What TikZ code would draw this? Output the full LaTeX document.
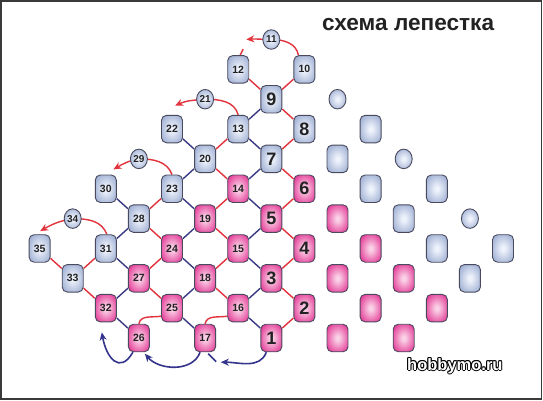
\documentclass[tikz,border=0pt]{standalone}
\usepackage{fontspec}
\setmainfont{Liberation Sans}
\usetikzlibrary{shapes.geometric,arrows.meta}
\definecolor{bluei}{HTML}{EEF2FB}
\definecolor{blueo}{HTML}{9EAFD3}
\definecolor{pinki}{HTML}{FAD0E6}
\definecolor{pinko}{HTML}{E33A96}
\definecolor{edgec}{HTML}{4A4A5E}
\definecolor{redc}{HTML}{E2323C}
\definecolor{navyc}{HTML}{3A3A84}
\definecolor{arrc}{HTML}{34348C}
\definecolor{txtc}{HTML}{222222}
\definecolor{framec}{HTML}{3A3A3A}
\pgfdeclareradialshading{blueshade}{\pgfpoint{0bp}{0bp}}{color(0bp)=(bluei); color(4bp)=(bluei); color(31bp)=(blueo); color(50bp)=(blueo)}
\pgfdeclareradialshading{pinkshade}{\pgfpoint{0bp}{0bp}}{color(0bp)=(pinki); color(4bp)=(pinki); color(31bp)=(pinko); color(50bp)=(pinko)}
\pgfdeclarelayer{bg}
\pgfsetlayers{bg,main}
\begin{document}
\begin{tikzpicture}[x=1pt,y=-1pt,
  bead/.style={rectangle, rounded corners=5pt, minimum width=21pt, minimum height=27.5pt,
    draw=edgec, line width=0.9pt, inner sep=0pt, text=txtc,
    font=\fontsize{10.5}{12}\selectfont\bfseries},
  bb/.style={bead, shade, shading=blueshade},
  pb/.style={bead, shade, shading=pinkshade},
  big/.style={font=\fontsize{18}{20}\selectfont\bfseries},
  cb/.style={ellipse, minimum width=17pt, minimum height=19.5pt, draw=edgec, line width=0.9pt,
    inner sep=0pt, shade, shading=blueshade, text=txtc, font=\fontsize{10}{11}\selectfont\bfseries},
  rl/.style={draw=redc, line width=1.4pt},
  bl/.style={draw=navyc, line width=1.4pt},
  ra/.style={rl, -{Stealth[length=8pt,width=7pt]}},
  ba/.style={draw=arrc, line width=1.6pt, -{Stealth[length=8pt,width=7pt]}},
  bs/.style={draw=arrc, line width=1.6pt},
  wm/.style={anchor=base west, inner sep=0pt, font=\fontsize{16.5}{18}\selectfont\bfseries}
]
\useasboundingbox (0,0) rectangle (543,400);
\begin{pgfonlayer}{bg}
\fill[white] (0,0) rectangle (543,400);
\draw[framec, line width=1.5pt] (0.75,0.75) rectangle (541.6,399.2);
\end{pgfonlayer}

\node[anchor=base west, inner sep=0pt, text=txtc, font=\fontsize{22.6}{24}\selectfont\bfseries] (title) at (322,30) {схема лепестка};

\begin{scope}[shift={(39.6,39.5)}, x=33.1pt, y=-29.85pt]
% row 0
\node[cb] (n11) at (7,0) {11};
% row 1
\node[bb] (n12) at (6,1) {12};
\node[bb] (n10) at (8,1) {10};
% row 2
\node[cb] (n21) at (5,2) {21};
\node[bb,big] (n9) at (7,2) {9};
\node[cb] (u1) at (9,2) {};
% row 3
\node[bb] (n22) at (4,3) {22};
\node[bb] (n13) at (6,3) {13};
\node[bb,big] (n8) at (8,3) {8};
\node[bb] (u2) at (10,3) {};
% row 4
\node[cb] (n29) at (3,4) {29};
\node[bb] (n20) at (5,4) {20};
\node[bb,big] (n7) at (7,4) {7};
\node[bb] (u3) at (9,4) {};
\node[cb] (u4) at (11,4) {};
% row 5
\node[bb] (n30) at (2,5) {30};
\node[bb] (n23) at (4,5) {23};
\node[pb] (n14) at (6,5) {14};
\node[pb,big] (n6) at (8,5) {6};
\node[bb] (u5) at (10,5) {};
\node[bb] (u6) at (12,5) {};
% row 6
\node[cb] (n34) at (1,6) {34};
\node[bb] (n28) at (3,6) {28};
\node[pb] (n19) at (5,6) {19};
\node[pb,big] (n5) at (7,6) {5};
\node[pb] (u7) at (9,6) {};
\node[bb] (u8) at (11,6) {};
\node[cb] (u9) at (13,6) {};
% row 7
\node[bb] (n35) at (0,7) {35};
\node[bb] (n31) at (2,7) {31};
\node[pb] (n24) at (4,7) {24};
\node[pb] (n15) at (6,7) {15};
\node[pb,big] (n4) at (8,7) {4};
\node[pb] (u10) at (10,7) {};
\node[bb] (u11) at (12,7) {};
\node[bb] (u12) at (14,7) {};
% row 8
\node[bb] (n33) at (1,8) {33};
\node[pb] (n27) at (3,8) {27};
\node[pb] (n18) at (5,8) {18};
\node[pb,big] (n3) at (7,8) {3};
\node[pb] (u13) at (9,8) {};
\node[pb] (u14) at (11,8) {};
\node[bb] (u15) at (13,8) {};
% row 9
\node[pb] (n32) at (2,9) {32};
\node[pb] (n25) at (4,9) {25};
\node[pb] (n16) at (6,9) {16};
\node[pb,big] (n2) at (8,9) {2};
\node[pb] (u16) at (10,9) {};
\node[pb] (u17) at (12,9) {};
% row 10
\node[pb] (n26) at (3,10) {26};
\node[pb] (n17) at (5,10) {17};
\node[pb,big] (n1) at (7,10) {1};
\node[pb] (u18) at (9,10) {};
\node[pb] (u19) at (11,10) {};
\end{scope}

% free ends
\coordinate (t11) at ([xshift=-25pt]n11.center);
\coordinate (s12) at ([xshift=5pt,yshift=6pt]n12.north);
\coordinate (t21) at ([xshift=-30pt,yshift=-6.5pt]n21.center);
\coordinate (t29) at ([xshift=-25.5pt,yshift=-10.5pt]n29.center);
\coordinate (t34) at ([xshift=-32.5pt,yshift=-12.5pt]n34.center);
\coordinate (tb1) at ([xshift=-50.5pt,yshift=-10pt]n1.south);
\coordinate (s17) at ([xshift=11pt,yshift=-9.5pt]n17.south);
\coordinate (t26) at ([xshift=6pt,yshift=-1.5pt]n26.south);
\coordinate (t32) at ([xshift=-4pt,yshift=-10pt]n32.south);

\begin{pgfonlayer}{bg}
\foreach \a/\b in {10/9,12/9,9/8,13/20,8/7,20/14,7/6,23/28,14/19,6/5,28/24,19/15,5/4,31/33,24/27,15/18,4/3,35/33,33/32,27/25,18/16,3/2,2/1}
  \draw[rl] (n\a) -- (n\b);
\foreach \a/\b in {9/13,13/7,22/20,20/23,7/14,23/19,14/5,30/28,28/31,19/24,5/15,31/27,24/18,15/3,27/32,18/25,3/16,32/26,25/17,16/1}
  \draw[bl] (n\a) -- (n\b);
\draw[rl] (n26.north) to[out=80,in=190] ([yshift=-8pt]n25.west);
\draw[rl] (n17.north) to[out=80,in=190] ([yshift=-8pt]n16.west);
% red loops
\draw[rl] ([xshift=-6pt]n10.north) to[out=100,in=0] (n11.center);
\draw[ra] (n11.center) to[out=180,in=5] (t11);
\draw[rl] ([xshift=2pt]n12.north) -- (s12);
\draw[rl] (n13.north) to[out=105,in=0] (n21.center);
\draw[ra] (n21.center) to[out=185,in=25] (t21);
\draw[rl] (n23.north) to[out=110,in=0] (n29.center);
\draw[ra] (n29.center) to[out=190,in=30] (t29);
\draw[rl] ([xshift=1pt]n31.north) to[out=110,in=0] (n34.center);
\draw[ra] (n34.center) to[out=190,in=30] (t34);
\end{pgfonlayer}

% blue loops
\draw[ba] ([xshift=-5pt]n1.south) to[out=-110,in=0] (tb1);
\draw[bs] ([xshift=3pt,yshift=-1.5pt]n17.south) -- (s17);
\draw[ba] ([xshift=-5pt]n17.south) to[out=-110,in=-50] (t26);
\draw[ba] ([xshift=-6pt]n26.south) to[out=-120,in=-80,looseness=1.8] (t32);

% watermark (white letters with a black outline)
\coordinate (wmp) at (407,370);
\foreach \a [count=\i] in {0,45,...,315}
  \node[wm, text=black] (w\i) at ([shift={(\a:1pt)}]wmp) {hobbymo.ru};
\node[wm, text=white] (wmain) at (wmp) {hobbymo.ru};
\end{tikzpicture}
\end{document}
